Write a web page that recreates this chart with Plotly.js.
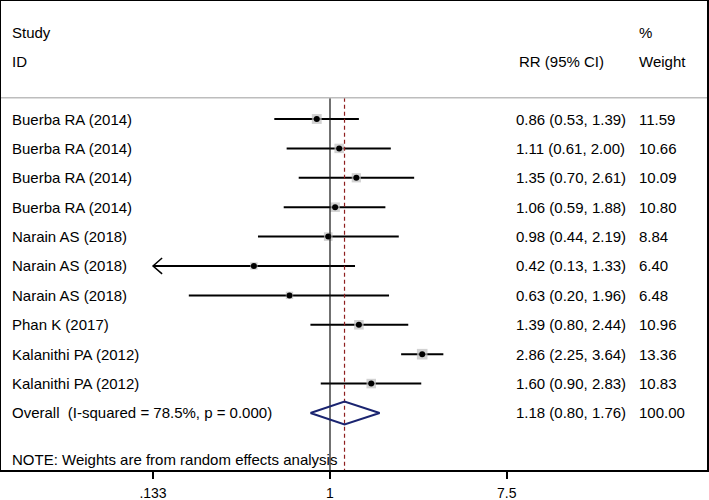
<!DOCTYPE html>
<html>
<head>
<meta charset="utf-8">
<script src="https://cdn.plot.ly/plotly-3.0.1.min.js"></script>
<style>html,body{margin:0;padding:0;background:#fff;}#chart{width:709px;height:500px;}</style>
</head>
<body>
<div id="chart"></div>
<script>
// ---- data ----
const studies = ['Buerba RA (2014)','Buerba RA (2014)','Buerba RA (2014)','Buerba RA (2014)',
  'Narain AS (2018)','Narain AS (2018)','Narain AS (2018)','Phan K (2017)',
  'Kalanithi PA (2012)','Kalanithi PA (2012)'];
const rr     = [0.86, 1.11, 1.35, 1.06, 0.98, 0.42, 0.63, 1.39, 2.86, 1.60];
const ciLow  = [0.53, 0.61, 0.70, 0.59, 0.44, 0.13, 0.20, 0.80, 2.25, 0.90];
const ciHigh = [1.39, 2.00, 2.61, 1.88, 2.19, 1.33, 1.96, 2.44, 3.64, 2.83];
const weights = [11.59, 10.66, 10.09, 10.80, 8.84, 6.40, 6.48, 10.96, 13.36, 10.83];
const overallLabel = 'Overall\u00a0 (I-squared = 78.5%, p = 0.000)';
const overallRR = 1.18, overallLow = 0.80, overallHigh = 1.76, overallWeight = 100.00;
const nullValue = 1;
const tickVals = [0.133, 1, 7.5];
const tickText = ['.133', '1', '7.5'];
const axisMin = 0.133;

// ---- build ----
const FONT = 'Liberation Sans, Arial, Helvetica, sans-serif';
const n = studies.length;
const rows = studies.map((_, i) => i);
const overallRow = n;
const fmt = v => v.toFixed(2);

const ciX = [], ciY = [];
const arrowX = [], arrowY = [];
for (let i = 0; i < n; i++) {
  const l = Math.max(ciLow[i], axisMin);
  ciX.push(l, ciHigh[i], null); ciY.push(i, i, null);
  if (ciLow[i] < axisMin) {
    const f = Math.pow(10, 0.045);
    arrowX.push(l * f, l, l * f, null);
    arrowY.push(i - 0.27, i, i + 0.27, null);
  }
}

const traces = [
  {x: ciX, y: ciY, mode: 'lines', line: {color: '#000', width: 2}, hoverinfo: 'skip'},
  {x: arrowX, y: arrowY, mode: 'lines', line: {color: '#000', width: 1.5}, hoverinfo: 'skip'},
  {x: rr, y: rows, mode: 'markers', marker: {symbol: 'square', color: '#bfbfbf',
     size: weights.map(w => 2.9 * Math.sqrt(w)), line: {width: 0}}, hoverinfo: 'skip'},
  {x: rr, y: rows, mode: 'markers', marker: {symbol: 'circle', color: '#000', size: 6}, hoverinfo: 'skip'},
  {x: [nullValue, nullValue], y: [-0.72, 11.94], mode: 'lines', line: {color: '#111', width: 1.2}, hoverinfo: 'skip'},
  {x: [overallRR, overallRR], y: [-0.72, 11.94], mode: 'lines', line: {color: '#8e1e1e', width: 1.2, dash: '4px,3px'}, hoverinfo: 'skip'},
  {x: [overallLow, overallRR, overallHigh, overallRR, overallLow],
   y: [overallRow, overallRow - 0.39, overallRow, overallRow + 0.39, overallRow],
   mode: 'lines', line: {color: '#1a2470', width: 2}, hoverinfo: 'skip'}
];

const annotations = [];
const txt = (text, xp, y) => annotations.push({text, x: xp, xref: 'paper', y, yref: 'y',
  xanchor: 'left', yanchor: 'middle', showarrow: false, font: {family: FONT, size: 15, color: '#000'}});
const xLabel = 0.0125, xRR = 0.7266, xW = 0.9008;
txt('Study', xLabel, -2.94);
txt('ID', xLabel, -1.95);
txt('RR (95% CI)', 0.731, -1.95);
txt('%', xW, -2.94);
txt('Weight', xW, -1.95);
for (let i = 0; i < n; i++) {
  txt(studies[i], xLabel, i);
  txt(fmt(rr[i]) + ' (' + fmt(ciLow[i]) + ', ' + fmt(ciHigh[i]) + ')', xRR, i);
  txt(fmt(weights[i]), xW, i);
}
txt(overallLabel, xLabel, overallRow);
txt(fmt(overallRR) + ' (' + fmt(overallLow) + ', ' + fmt(overallHigh) + ')', xRR, overallRow);
txt(fmt(overallWeight), xW, overallRow);
txt('NOTE: Weights are from random effects analysis', xLabel, 11.57);

const layout = {
  width: 709, height: 500,
  margin: {l: 1, r: 2, t: 1, b: 30},
  paper_bgcolor: '#fff', plot_bgcolor: '#fff',
  showlegend: false,
  font: {family: FONT, color: '#000'},
  xaxis: {type: 'log', range: [-1.6287, 1.8663], tickvals: tickVals, ticktext: tickText,
    ticks: 'outside', ticklen: 7, tickwidth: 1.5, tickcolor: '#000', ticklabelstandoff: 3,
    showline: true, mirror: true, linecolor: '#000', linewidth: 1.5,
    showgrid: false, zeroline: false, tickfont: {family: FONT, size: 14, color: '#000'}},
  yaxis: {range: [11.94, -4.014], showticklabels: false, showgrid: false, zeroline: false,
    showline: true, mirror: true, linecolor: '#000', linewidth: 1.5, ticks: ''},
  shapes: [{type: 'line', xref: 'paper', yref: 'y', x0: 0, x1: 1, y0: -0.72, y1: -0.72,
    line: {color: '#bdbdbd', width: 1.5}}],
  annotations
};

Plotly.newPlot('chart', traces, layout, {staticPlot: true});
</script>
</body>
</html>
